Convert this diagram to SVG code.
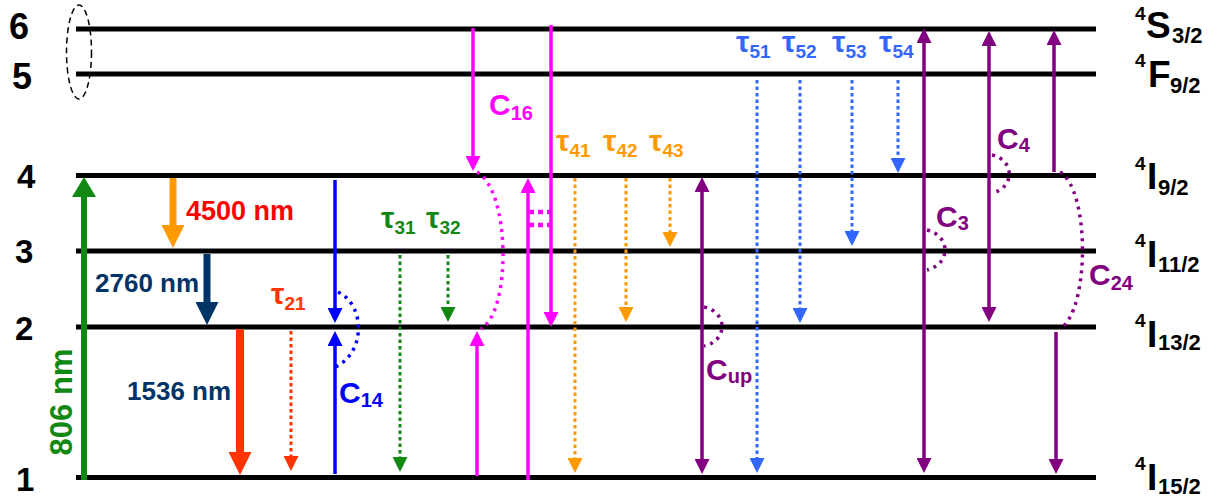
<svg xmlns="http://www.w3.org/2000/svg" width="1217" height="499" viewBox="0 0 1217 499">
<style>
text{font-family:"Liberation Sans",Arial,sans-serif;font-weight:bold}
.lvl{stroke:#000;stroke-width:5;fill:none}
.num{font-size:33px;fill:#000}
.term{fill:#000}
.sup{font-size:19px}
.big{font-size:37px}
.sub{font-size:22px}
.th{fill:none;stroke-width:3.5}
.dot{fill:none;stroke-width:3;stroke-dasharray:3.5 3}
.arc{fill:none;stroke-width:3.5;stroke-dasharray:3 5}
.mag{stroke:#ff00ff}.pur{stroke:#800080}.blu{stroke:#0000ff}.lbl{stroke:#3366ff}
.org{stroke:#ff9900}.grn{stroke:#118811}.red{stroke:#ff3300}
.tau{font-size:30px}.ts{font-size:19px}
.c{font-size:30px}.cs{font-size:20px}
</style>
<defs>
<marker id="h-mag" markerUnits="userSpaceOnUse" markerWidth="15" markerHeight="15" refX="7" refY="7.5" orient="auto-start-reverse"><path d="M0,0L15,7.5L0,15z" fill="#ff00ff"/></marker>
<marker id="h-pur" markerUnits="userSpaceOnUse" markerWidth="15" markerHeight="15" refX="7" refY="7.5" orient="auto-start-reverse"><path d="M0,0L15,7.5L0,15z" fill="#800080"/></marker>
<marker id="h-blu" markerUnits="userSpaceOnUse" markerWidth="15" markerHeight="15" refX="7" refY="7.5" orient="auto-start-reverse"><path d="M0,0L15,7.5L0,15z" fill="#0000ff"/></marker>
<marker id="h-lbl" markerUnits="userSpaceOnUse" markerWidth="15" markerHeight="15" refX="7" refY="7.5" orient="auto-start-reverse"><path d="M0,0L15,7.5L0,15z" fill="#3366ff"/></marker>
<marker id="h-org" markerUnits="userSpaceOnUse" markerWidth="15" markerHeight="15" refX="7" refY="7.5" orient="auto-start-reverse"><path d="M0,0L15,7.5L0,15z" fill="#ff9900"/></marker>
<marker id="h-grn" markerUnits="userSpaceOnUse" markerWidth="15" markerHeight="15" refX="7" refY="7.5" orient="auto-start-reverse"><path d="M0,0L15,7.5L0,15z" fill="#118811"/></marker>
<marker id="h-red" markerUnits="userSpaceOnUse" markerWidth="15" markerHeight="15" refX="7" refY="7.5" orient="auto-start-reverse"><path d="M0,0L15,7.5L0,15z" fill="#ff3300"/></marker>
<marker id="H-grn" markerUnits="userSpaceOnUse" markerWidth="20" markerHeight="24" refX="8" refY="12" orient="auto"><path d="M0,0L20,12L0,24z" fill="#118811"/></marker>
<marker id="H-org" markerUnits="userSpaceOnUse" markerWidth="23" markerHeight="23" refX="11" refY="11.5" orient="auto"><path d="M0,0L23,11.5L0,23z" fill="#ff9900"/></marker>
<marker id="H-nav" markerUnits="userSpaceOnUse" markerWidth="23" markerHeight="23" refX="11" refY="11.5" orient="auto"><path d="M0,0L23,11.5L0,23z" fill="#003366"/></marker>
<marker id="H-red" markerUnits="userSpaceOnUse" markerWidth="23" markerHeight="23" refX="11" refY="11.5" orient="auto"><path d="M0,0L23,11.5L0,23z" fill="#ff3300"/></marker>
</defs>
<rect width="1217" height="499" fill="#fff"/>

<g id="level6"><line class="lvl" x1="76" y1="29" x2="1096" y2="29"/><text class="num" x="9" y="39" style="font-size:36px">6</text>
<text class="term"><tspan class="sup" x="1135" y="20">4</tspan><tspan class="big" x="1146" y="38">S</tspan><tspan class="sub" x="1172" y="43">3/2</tspan></text></g>
<g id="level5"><line class="lvl" x1="76" y1="74" x2="1096" y2="74"/><text class="num" x="12" y="89" style="font-size:36px">5</text>
<text class="term"><tspan class="sup" x="1135" y="67">4</tspan><tspan class="big" x="1148" y="87">F</tspan><tspan class="sub" x="1170" y="93">9/2</tspan></text></g>
<g id="level4"><line class="lvl" x1="76" y1="175.5" x2="1096" y2="175.5"/><text class="num" x="17" y="188">4</text>
<text class="term"><tspan class="sup" x="1135" y="170">4</tspan><tspan class="big" x="1147" y="189">I</tspan><tspan class="sub" x="1158" y="195">9/2</tspan></text></g>
<g id="level3"><line class="lvl" x1="76" y1="251" x2="1096" y2="251"/><text class="num" x="15" y="263">3</text>
<text class="term"><tspan class="sup" x="1135" y="247">4</tspan><tspan class="big" x="1147" y="267">I</tspan><tspan class="sub" x="1158" y="272">11/2</tspan></text></g>
<g id="level2"><line class="lvl" x1="76" y1="327" x2="1096" y2="327"/><text class="num" x="15" y="340">2</text>
<text class="term"><tspan class="sup" x="1135" y="327">4</tspan><tspan class="big" x="1147" y="347">I</tspan><tspan class="sub" x="1158" y="350">13/2</tspan></text></g>
<g id="level1"><line class="lvl" x1="76" y1="477.5" x2="1096" y2="477.5"/><text class="num" x="16" y="491">1</text>
<text class="term"><tspan class="sup" x="1135" y="470">4</tspan><tspan class="big" x="1147" y="490">I</tspan><tspan class="sub" x="1158" y="494">15/2</tspan></text></g>
<g id="group56"><ellipse cx="79" cy="52" rx="12.5" ry="47" fill="none" stroke="#000" stroke-width="1.5" stroke-dasharray="6 4"/></g>

<g id="connectors">
<line x1="84" y1="480" x2="84" y2="189" stroke="#118811" stroke-width="6" marker-end="url(#H-grn)"/>
<line x1="173" y1="178" x2="173" y2="236" stroke="#ff9900" stroke-width="7" marker-end="url(#H-org)"/>
<line x1="207" y1="254" x2="207" y2="313" stroke="#003366" stroke-width="7" marker-end="url(#H-nav)"/>
<line x1="240" y1="329" x2="240" y2="463" stroke="#ff3300" stroke-width="8" marker-end="url(#H-red)"/>
<line class="dot red" x1="291" y1="331" x2="291" y2="463" marker-end="url(#h-red)"/>
<line class="th blu" x1="335" y1="180" x2="335" y2="315" marker-end="url(#h-blu)"/>
<line class="th blu" x1="335" y1="474" x2="335" y2="339" marker-end="url(#h-blu)"/>
<path class="arc blu" d="M338,292C366,305 366,355 333,368"/>
<line class="dot grn" x1="400" y1="255" x2="400" y2="464" marker-end="url(#h-grn)"/>
<line class="dot grn" x1="448" y1="255" x2="448" y2="314" marker-end="url(#h-grn)"/>
<line class="th mag" x1="473" y1="28" x2="473" y2="163" marker-end="url(#h-mag)"/>
<line class="th mag" x1="477" y1="476" x2="477" y2="339" marker-end="url(#h-mag)"/>
<path class="arc mag" d="M477,172C510,190 512,310 481,329"/>
<line class="th mag" x1="528" y1="480" x2="528" y2="186" marker-end="url(#h-mag)"/>
<line class="th mag" x1="551" y1="25" x2="551" y2="319" marker-end="url(#h-mag)"/>
<line class="mag" x1="529" y1="212" x2="551" y2="212" stroke-width="4.5" stroke-dasharray="5 4"/>
<line class="mag" x1="529" y1="225" x2="551" y2="225" stroke-width="4.5" stroke-dasharray="5 4"/>
<line class="dot org" x1="575" y1="178" x2="575" y2="465" marker-end="url(#h-org)"/>
<line class="dot org" x1="626" y1="178" x2="626" y2="314" marker-end="url(#h-org)"/>
<line class="dot org" x1="670" y1="178" x2="670" y2="239" marker-end="url(#h-org)"/>
<line class="th pur" x1="702" y1="185" x2="702" y2="466" marker-start="url(#h-pur)" marker-end="url(#h-pur)"/>
<path class="arc pur" d="M704,307C728,312 728,341 704,346"/>
<line class="dot lbl" x1="757" y1="80" x2="757" y2="465" marker-end="url(#h-lbl)"/>
<line class="dot lbl" x1="800" y1="80" x2="800" y2="315" marker-end="url(#h-lbl)"/>
<line class="dot lbl" x1="852" y1="80" x2="852" y2="238" marker-end="url(#h-lbl)"/>
<line class="dot lbl" x1="898" y1="80" x2="898" y2="165" marker-end="url(#h-lbl)"/>
<line class="th pur" x1="924" y1="36" x2="924" y2="465" marker-start="url(#h-pur)" marker-end="url(#h-pur)"/>
<path class="arc pur" d="M927,230C951,236 951,264 927,270"/>
<line class="th pur" x1="989" y1="39" x2="989" y2="314" marker-start="url(#h-pur)" marker-end="url(#h-pur)"/>
<path class="arc pur" d="M992,155C1015,160 1015,188 992,193"/>
<line class="th pur" x1="1054" y1="172" x2="1054" y2="38" marker-end="url(#h-pur)"/>
<line class="th pur" x1="1056" y1="332" x2="1056" y2="466" marker-end="url(#h-pur)"/>
<path class="arc pur" d="M1060,172C1090,190 1090,310 1060,329"/>
</g>

<g id="labels">
<text x="72" y="402" transform="rotate(-90 72 402)" text-anchor="middle" font-size="31" fill="#118811">806 nm</text>
<text x="186" y="220" font-size="27" fill="#ff0000">4500 nm</text>
<text x="95" y="292" font-size="26" fill="#003366">2760 nm</text>
<text x="127" y="400" font-size="26" fill="#003366">1536 nm</text>
<text fill="#ff3300"><tspan class="tau" x="271" y="304">τ</tspan><tspan class="ts" y="310">21</tspan></text>
<text fill="#118811"><tspan class="tau" x="381" y="228">τ</tspan><tspan class="ts" y="234">31</tspan></text>
<text fill="#118811"><tspan class="tau" x="426" y="228">τ</tspan><tspan class="ts" y="234">32</tspan></text>
<text fill="#ff9900"><tspan class="tau" x="556" y="151">τ</tspan><tspan class="ts" y="157">41</tspan></text>
<text fill="#ff9900"><tspan class="tau" x="603" y="151">τ</tspan><tspan class="ts" y="157">42</tspan></text>
<text fill="#ff9900"><tspan class="tau" x="649" y="151">τ</tspan><tspan class="ts" y="157">43</tspan></text>
<text fill="#3366ff"><tspan class="tau" x="736" y="52">τ</tspan><tspan class="ts" y="58">51</tspan></text>
<text fill="#3366ff"><tspan class="tau" x="782" y="52">τ</tspan><tspan class="ts" y="58">52</tspan></text>
<text fill="#3366ff"><tspan class="tau" x="832" y="52">τ</tspan><tspan class="ts" y="58">53</tspan></text>
<text fill="#3366ff"><tspan class="tau" x="879" y="52">τ</tspan><tspan class="ts" y="58">54</tspan></text>
<text fill="#ff00ff"><tspan class="c" x="489" y="115">C</tspan><tspan class="cs" y="120">16</tspan></text>
<text fill="#0000ff"><tspan class="c" x="339" y="403">C</tspan><tspan class="cs" y="407">14</tspan></text>
<text fill="#800080"><tspan class="c" x="706" y="380">C</tspan><tspan class="cs" y="383">up</tspan></text>
<text fill="#800080"><tspan class="c" x="936" y="227">C</tspan><tspan class="cs" y="230">3</tspan></text>
<text fill="#800080"><tspan class="c" x="997" y="149">C</tspan><tspan class="cs" y="152">4</tspan></text>
<text fill="#800080"><tspan class="c" x="1089" y="285">C</tspan><tspan class="cs" y="290">24</tspan></text>
</g>
</svg>
